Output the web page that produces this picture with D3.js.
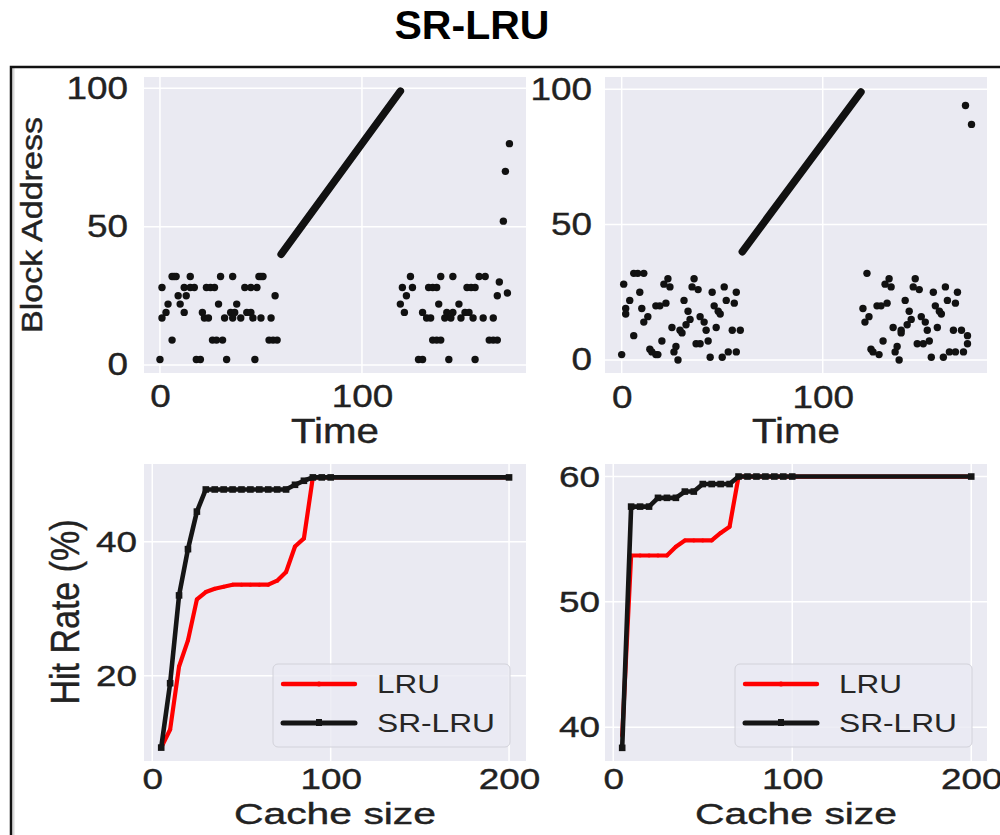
<!DOCTYPE html>
<html>
<head>
<meta charset="utf-8">
<script src="https://cdn.jsdelivr.net/npm/d3@7/dist/d3.min.js"></script>
<style>
body { margin:0; background:#fff; }
text { font-family:"Liberation Sans", Arial, sans-serif; }
</style>
</head>
<body>
<div id="chart-area"></div>
<script>
// ---- data ----
// top-left: block address trace (two reuse phases + a sequential scan)
var tlTime = [0,1,1,3,4,6,6,7,8,9,10,12,12,13,15,15,17,18,20,21,22,23,24,25,26,27,28,29,30,31,32,33,35,36,36,37,38,40,42,43,45,45,46,47,48,49,50,50,51,54,55,56,57,58,
              119,120,121,122,124,125,128,130,130,132,133,134,135,135,137,137,138,139,139,141,142,143,144,145,145,148,149,151,152,153,154,155,156,156,158,160,161,163,165,165,167,167,168,170,171,172,173];
var tlAddr = [2,28,17,19,22,32,9,32,32,25,22,28,19,25,32,28,28,2,2,19,17,28,17,28,9,28,9,22,32,9,17,2,19,32,17,19,22,17,28,19,28,19,17,2,28,32,32,17,32,9,17,9,25,9,
              22,28,19,25,32,28,2,2,19,17,28,17,28,9,28,9,22,32,9,17,19,2,17,32,19,22,17,19,28,19,28,17,28,2,32,17,32,9,17,9,9,25,30,52,70,26,80];

// top-right: same trace with random reuse
var trTime = [0,1,2,2,4,6,6,8,9,10,11,11,13,14,15,17,17,18,19,20,21,22,23,24,25,26,27,28,29,30,31,32,33,34,35,36,37,38,39,39,41,42,43,44,45,46,47,48,49,50,51,52,53,55,56,57,57,59,
              120,121,122,123,124,125,127,128,129,130,131,132,133,134,135,136,137,138,139,139,141,142,143,144,145,146,147,148,149,150,151,152,153,154,155,156,157,158,159,160,161,162,163,165,166,166,167,169,170,171,172,172,174];
var trAddr = [2,28,19,17,22,9,32,32,25,19,32,14,16,4,3,20,2,2,20,7,28,21,30,27,12,3,5,0,11,10,22,13,18,15,27,30,6,26,16,6,14,11,7,1,25,20,12,18,17,1,27,22,3,11,21,3,25,11,
              19,14,32,16,4,3,20,2,20,7,28,21,30,27,12,3,5,0,11,10,22,13,18,15,27,30,6,26,16,6,14,11,7,1,25,20,12,18,17,1,27,22,3,11,21,3,25,11,3,94,9,6,87];

// the sequential scan (start and end of the dense run)
var scanTime = [60, 119];
var scanAddr = [40, 99];

// bottom: hit rate vs cache size
var cacheSize = [5,10,15,20,25,30,35,40,45,50,55,60,65,70,75,80,85,90,95,100,200];
var blLRU   = [9.3,12.0,21.4,25.3,31.4,32.5,33.0,33.3,33.6,33.6,33.6,33.6,33.6,34.2,35.5,39.3,40.5,49.6,49.6,49.6,49.6];
var blSRLRU = [9.3,18.9,32.0,38.9,44.5,47.8,47.8,47.8,47.8,47.8,47.8,47.8,47.8,47.8,47.8,48.5,49.1,49.6,49.6,49.6,49.6];
var brLRU   = [39.3,53.7,53.7,53.7,53.7,53.7,54.4,54.9,54.9,54.9,54.9,55.5,56.0,60,60,60,60,60,60,60,60];
var brSRLRU = [38.35,57.6,57.6,57.6,58.3,58.3,58.3,58.8,58.8,59.4,59.4,59.4,59.4,60,60,60,60,60,60,60,60];

var seriesNames = ["LRU", "SR-LRU"];
var seriesColors = ["#ff0000", "#151515"];

var topXTicks = [0, 100], topYTicks = [0, 50, 100];
var botXTicks = [0, 100, 200];
var blYTicks = [20, 40], brYTicks = [40, 50, 60];

// ---- drawing ----
var svg = d3.select("#chart-area")
        .append("svg")
                .attr("width", 1000)
                .attr("height", 835);

// frame around the figure
svg.append("line").attr("x1",13.5).attr("x2",13.5).attr("y1",68).attr("y2",835)
        .attr("stroke","#d8d8d8").attr("stroke-width",2);
svg.append("rect")
        .attr("x",11).attr("y",67).attr("width",1000).attr("height",800)
        .attr("fill","none").attr("stroke","#111").attr("stroke-width",2.5);

svg.append("text")
        .attr("x",472).attr("y",39)
        .attr("text-anchor","middle")
        .attr("font-size","40px").attr("font-weight","bold")
        .attr("textLength",155).attr("lengthAdjust","spacingAndGlyphs")
        .attr("fill","#000")
        .text("SR-LRU");

function panel(p) {
        var x = d3.scaleLinear().domain(p.xd).range([p.x0, p.x1]);
        var y = d3.scaleLinear().domain(p.yd).range([p.y1, p.y0]);

        svg.append("rect")
                .attr("x",p.x0).attr("y",p.y0)
                .attr("width",p.x1-p.x0).attr("height",p.y1-p.y0)
                .attr("fill","#eaeaf2");

        var grid = svg.append("g").attr("stroke","#fff").attr("stroke-width",1.5);
        grid.selectAll(".gx").data(p.xt).enter().append("line")
                .attr("x1",d => x(d)).attr("x2",d => x(d))
                .attr("y1",p.y0).attr("y2",p.y1);
        grid.selectAll(".gy").data(p.yt).enter().append("line")
                .attr("y1",d => y(d)).attr("y2",d => y(d))
                .attr("x1",p.x0).attr("x2",p.x1);

        var xAxis = svg.append("g")
                .attr("transform","translate(0,"+p.y1+")")
                .call(d3.axisBottom(x).tickValues(p.xt).tickSize(0).tickPadding(p.xpad));
        var yAxis = svg.append("g")
                .attr("transform","translate("+p.x0+",0)")
                .call(d3.axisLeft(y).tickValues(p.yt).tickSize(0).tickPadding(p.ypad));
        [xAxis, yAxis].forEach(a => {
                a.select(".domain").remove();
                a.attr("font-family","Liberation Sans, Arial, sans-serif")
                        .attr("font-size",p.tickSize).attr("color","#222");
                a.selectAll("text")
                        .attr("stroke","#222").attr("stroke-width",0.4)
                        .attr("textLength", d => String(d).length*20.5)
                        .attr("lengthAdjust","spacingAndGlyphs");
        });

        svg.append("text")
                .attr("x",(p.x0+p.x1)/2).attr("y",p.xlabY)
                .attr("text-anchor","middle")
                .attr("font-size",p.xlabSize+"px").attr("fill","#222")
                .attr("stroke","#222").attr("stroke-width",0.4)
                .attr("textLength",p.xlabLen).attr("lengthAdjust","spacingAndGlyphs")
                .text(p.xlab);
        if (p.ylab) {
                svg.append("text")
                        .attr("transform","translate("+p.ylabX+","+p.ylabY+") rotate(-90)")
                        .attr("text-anchor","middle")
                        .attr("font-size",p.ylabSize+"px").attr("fill","#222")
                        .attr("stroke","#222").attr("stroke-width",0.4)
                        .attr("textLength",p.ylabLen).attr("lengthAdjust","spacingAndGlyphs")
                        .text(p.ylab);
        }
        return {x:x, y:y};
}

function tracePanel(p, times, addrs) {
        var s = panel(p);
        svg.append("line")
                .attr("x1",s.x(scanTime[0])).attr("y1",s.y(scanAddr[0]))
                .attr("x2",s.x(scanTime[1])).attr("y2",s.y(scanAddr[1]))
                .attr("stroke","#111").attr("stroke-width",7.5).attr("stroke-linecap","round");
        svg.append("g").selectAll("circle")
                .data(times.map((t,i) => [t, addrs[i]]))
                .enter()
                .append("circle")
                .attr("cx",d => s.x(d[0]))
                .attr("cy",d => s.y(d[1]))
                .attr("r",3.7)
                .attr("fill","#111");
}

function hitPanel(p, lru, srlru) {
        var s = panel(p);
        var line = d3.line().x((d,i) => s.x(cacheSize[i])).y(d => s.y(d));
        svg.append("path").datum(lru)
                .attr("d",line).attr("fill","none")
                .attr("stroke",seriesColors[0]).attr("stroke-width",4.2).attr("stroke-linejoin","round");
        svg.append("g").selectAll("circle").data(lru).enter().append("circle")
                .attr("cx",(d,i) => s.x(cacheSize[i])).attr("cy",d => s.y(d))
                .attr("r",2).attr("fill",seriesColors[0]);
        svg.append("path").datum(srlru)
                .attr("d",line).attr("fill","none")
                .attr("stroke",seriesColors[1]).attr("stroke-width",4.6).attr("stroke-linejoin","round");
        svg.append("g").selectAll("rect").data(srlru).enter().append("rect")
                .attr("x",(d,i) => s.x(cacheSize[i])-3.3).attr("y",d => s.y(d)-3.3)
                .attr("width",6.6).attr("height",6.6).attr("fill",seriesColors[1]);

        // legend
        var lg = svg.append("g").attr("transform","translate("+p.lgX+","+p.lgY+")");
        lg.append("rect")
                .attr("width",237).attr("height",83).attr("rx",5)
                .attr("fill","#eaeaf2").attr("fill-opacity",0.8)
                .attr("stroke","#d2d2da").attr("stroke-width",1);
        var item = lg.selectAll(".item").data(seriesNames).enter().append("g")
                .attr("transform",(d,i) => "translate(0,"+(20+i*39)+")");
        item.append("line")
                .attr("x1",10).attr("x2",82)
                .attr("stroke",(d,i) => seriesColors[i]).attr("stroke-width",(d,i) => i == 0 ? 4.4 : 5)
                .attr("stroke-linecap","round");
        item.filter((d,i) => i == 0).append("circle")
                .attr("cx",46).attr("r",2.5).attr("fill",seriesColors[0]);
        item.filter((d,i) => i == 1).append("rect")
                .attr("x",43).attr("y",-4).attr("width",6).attr("height",7)
                .attr("fill",seriesColors[1]);
        item.append("text")
                .attr("x",104).attr("y",9)
                .attr("font-size","26px").attr("fill","#262626")
                .attr("textLength",(d,i) => i == 0 ? 63 : 118).attr("lengthAdjust","spacingAndGlyphs")
                .text(d => d);
}

tracePanel({x0:144, x1:526, y0:77, y1:373, xd:[-7.9,181.2], yd:[-2.9,104.1],
        xt:topXTicks, yt:topYTicks, xpad:12, ypad:16, tickSize:31,
        xlab:"Time", xlabY:443, xlabSize:35, xlabLen:88,
        ylab:"Block Address", ylabX:42, ylabY:225, ylabSize:30, ylabLen:216}, tlTime, tlAddr);

tracePanel({x0:605, x1:987, y0:77, y1:373, xd:[-8.3,181.7], yd:[-4.8,104.5],
        xt:topXTicks, yt:topYTicks, xpad:12.5, ypad:13, tickSize:31,
        xlab:"Time", xlabY:443, xlabSize:35, xlabLen:88}, trTime, trAddr);

hitPanel({x0:144, x1:526, y0:464, y1:761, xd:[-4.65,209.5], yd:[7.3,51.6],
        xt:botXTicks, yt:blYTicks, xpad:6.5, ypad:7, tickSize:30,
        xlab:"Cache size", xlabY:824, xlabSize:30, xlabLen:202,
        ylab:"Hit Rate (%)", ylabX:79, ylabY:612, ylabSize:40, ylabLen:185,
        lgX:273, lgY:664}, blLRU, blSRLRU);

hitPanel({x0:605, x1:987, y0:464, y1:761, xd:[-4.6,208.8], yd:[37.3,61.0],
        xt:botXTicks, yt:brYTicks, xpad:6.5, ypad:5, tickSize:30,
        xlab:"Cache size", xlabY:824, xlabSize:30, xlabLen:202,
        lgX:735, lgY:664}, brLRU, brSRLRU);
</script>
</body>
</html>
